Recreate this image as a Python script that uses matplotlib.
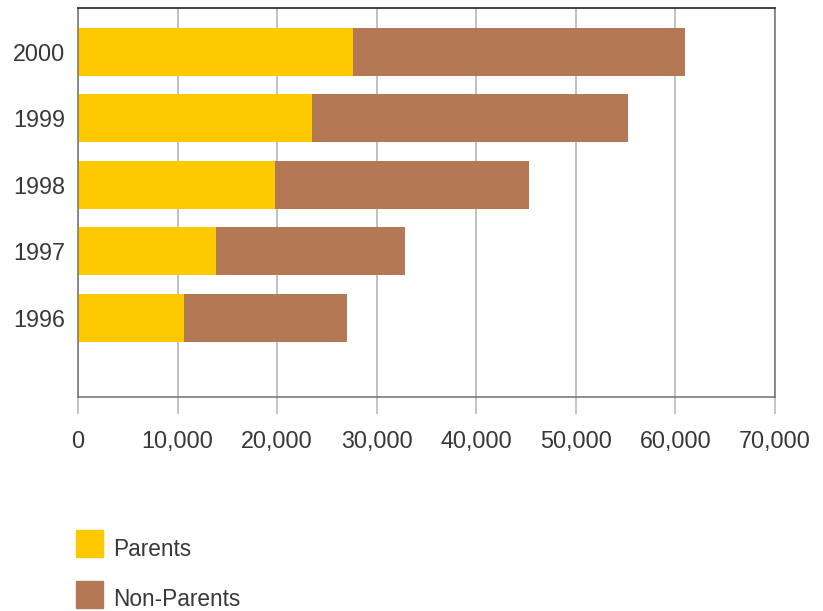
import matplotlib.pyplot as plt
from matplotlib.patches import Rectangle

# Parents / non-parents by year
years = ['1996', '1997', '1998', '1999', '2000']
parents = [10600, 13900, 19800, 23500, 27600]
non_parents = [16400, 18900, 25500, 31700, 33400]

yellow = '#FFC900'
brown = '#B57855'
text_col = '#383838'

plt.rcParams['font.family'] = ['Liberation Sans', 'DejaVu Sans']
plt.rcParams['font.size'] = 16.8

fig = plt.figure(figsize=(8.23, 6.11), dpi=100)
ax = fig.add_axes([78 / 823, 214 / 611, 697 / 823, 389 / 611])

pos = range(len(years))
ax.barh(pos, parents, height=0.72, color=yellow, zorder=2)
ax.barh(pos, non_parents, left=parents, height=0.72, color=brown, zorder=2)

ax.set_xlim(0, 70000)
ax.set_ylim(-1.19, 4.66)
ax.set_yticks(list(pos))
ax.set_yticklabels(years)
ax.set_xticks(range(0, 70001, 10000))
ax.set_xticklabels(['0'] + [f'{v:,}' for v in range(10000, 70001, 10000)])

ax.xaxis.grid(True, color='#b4b4bc', linewidth=1.2, zorder=0)
ax.set_axisbelow(True)
ax.tick_params(axis='x', length=12, width=1.1, color='#b4b4bc', pad=12,
               labelcolor=text_col)
ax.tick_params(axis='y', length=0, pad=9, labelcolor=text_col)

for side in ['left', 'bottom', 'right']:
    ax.spines[side].set_color('#707070')
    ax.spines[side].set_linewidth(1.1)
ax.spines['top'].set_color('#333333')
ax.spines['top'].set_linewidth(1.3)

# legend swatches below the chart
for i, (lab, col) in enumerate([('Parents', yellow), ('Non-Parents', brown)]):
    y0 = 1 - (557 + 51 * i) / 611
    fig.add_artist(Rectangle((76 / 823, y0), 27 / 823, 27 / 611,
                             transform=fig.transFigure, color=col))
    fig.text(113 / 823, 1 - (549 + 51 * i) / 611, lab, color=text_col,
             va='center', ha='left', fontsize=16.3)

fig.savefig('out.png', dpi=100)
